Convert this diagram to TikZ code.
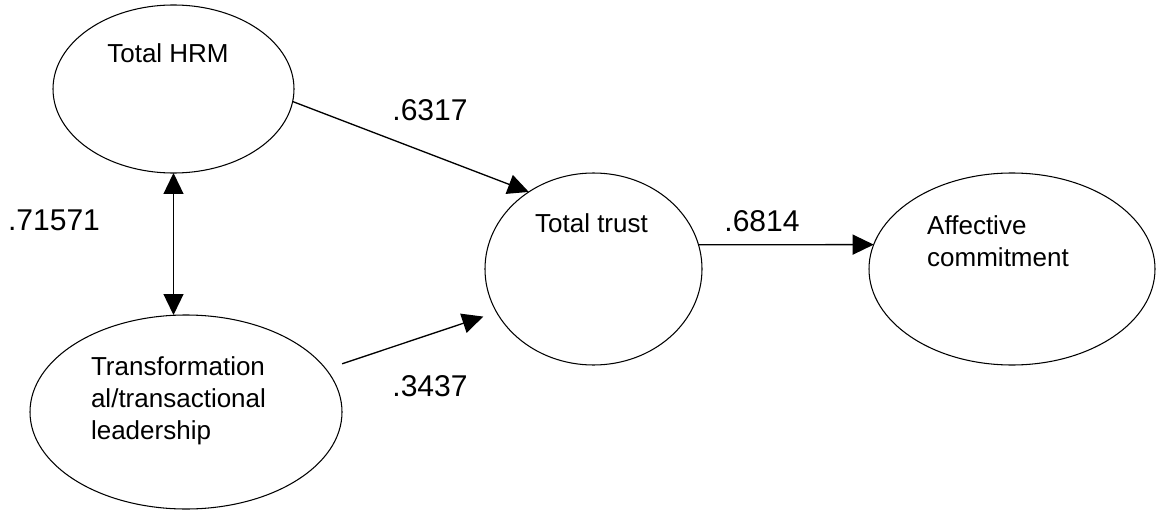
\documentclass[tikz,border=0pt]{standalone}
\usepackage{fontspec}
\setmainfont{Liberation Sans}
\usepackage{xcolor}
\usepackage{tikz}
\usetikzlibrary{arrows.meta,shapes.geometric}
\definecolor{figline}{RGB}{0,0,0}
\tikzset{
  lv/.style  ={draw=figline, ellipse, line width=0.6pt, inner sep=0pt, outer sep=0pt},
  nt/.style  ={font=\fontsize{14.8}{18.2}\selectfont, inner sep=0pt, align=left},
  cf/.style  ={font=\fontsize{17.1}{20}\selectfont, inner sep=0pt},
  ptr/.style ={draw=figline, line width=0.75pt, -{Triangle[length=0.42cm,width=0.4cm]}},
  ptrs/.style={draw=figline, line width=0.75pt, {Triangle[length=0.42cm,width=0.4cm]}-{Triangle[length=0.42cm,width=0.4cm]}},
}

\begin{document}
\begin{tikzpicture}
  \useasboundingbox (0,0) rectangle (23.12,10.24);
  \node[lv, minimum width=4.82cm, minimum height=3.36cm] (hrm) at (3.47,8.46) {};
  \node[lv, minimum width=6.24cm, minimum height=3.88cm] (trans) at (3.72,2.00) {};
  \node[lv, minimum width=4.34cm, minimum height=3.84cm] (trust) at (11.87,4.86) {};
  \node[lv, minimum width=5.72cm, minimum height=3.84cm] (aff) at (20.24,4.86) {};
  \node[nt] (hrmtxt) at (3.36,9.18) {Total HRM};
  \node[nt] (transtxt) at (3.57,2.22) {Transformation\\al/transactional\\leadership};
  \node[nt] (trusttxt) at (11.83,5.78) {Total trust};
  \node[nt] (afftxt) at (19.96,5.42) {Affective\\commitment};
  \draw[ptrs] (hrm.south) -- (hrm.south |- trans.north);
  \draw[ptr] (hrm.-6) -- (trust.130);
  \draw[ptr, shorten <=0.34cm, shorten >=0.28cm] (trans.17) -- (trust.204);
  \draw[ptr] (trust.13) -- (aff.170);
  \node[cf] (c1) at (1.08,5.84) {.71571};
  \node[cf] (c2) at (8.60,8.04) {.6317};
  \node[cf] (c3) at (8.60,2.52) {.3437};
  \node[cf] (c4) at (15.24,5.82) {.6814};
\end{tikzpicture}
\end{document}
